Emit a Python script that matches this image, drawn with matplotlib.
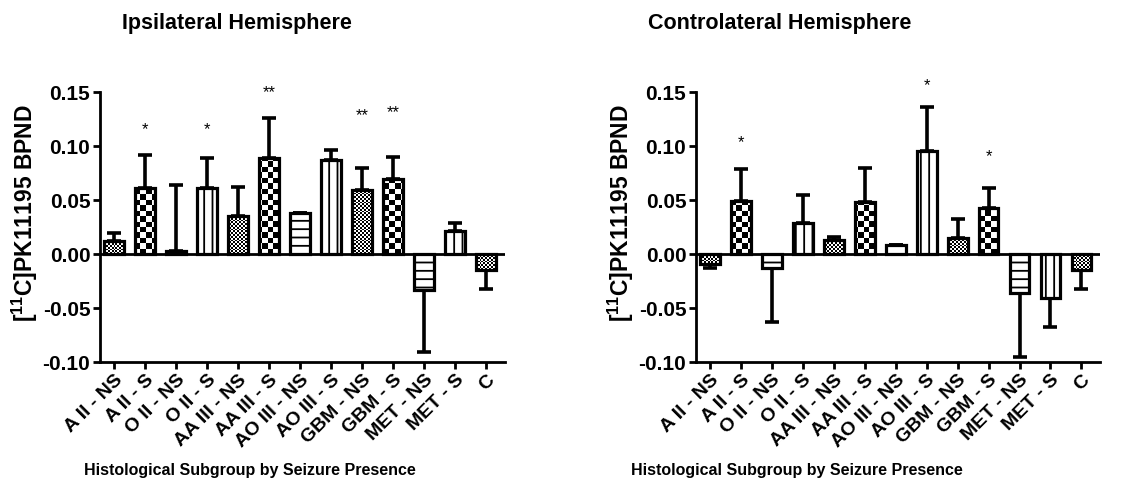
import matplotlib
matplotlib.use("Agg")
import matplotlib.pyplot as plt
import numpy as np

plt.rcParams['font.family'] = ['Liberation Sans', 'DejaVu Sans']
plt.rcParams['font.weight'] = 'bold'
plt.rcParams['mathtext.fontset'] = 'custom'
plt.rcParams['mathtext.rm'] = 'Liberation Sans:bold'
plt.rcParams['mathtext.bf'] = 'Liberation Sans:bold'
plt.rcParams['hatch.linewidth'] = 1.3

labels = ['A II - NS', 'A II - S', 'O II - NS', 'O II - S', 'AA III - NS', 'AA III - S',
          'AO III - NS', 'AO III - S', 'GBM - NS', 'GBM - S', 'MET - NS', 'MET - S', 'C']
patterns = ['fine', 'checker', 'hline', 'vline', 'fine', 'checker', 'hline', 'vline',
            'fine', 'checker', 'hline', 'vline', 'fine']

ipsi_mean = [0.012, 0.061, 0.003, 0.061, 0.035, 0.089, 0.038, 0.087, 0.059, 0.069, -0.033, 0.021, -0.015]
ipsi_err = [0.007, 0.031, 0.061, 0.028, 0.027, 0.037, 0.0, 0.009, 0.021, 0.021, 0.058, 0.008, 0.017]
ipsi_stars = ['', '*', '', '*', '', '**', '', '', '**', '**', '', '', '']
ipsi_star_y = [0, 0.115, 0, 0.115, 0, 0.149, 0, 0, 0.128, 0.131, 0, 0, 0]

contra_mean = [-0.009, 0.049, -0.013, 0.029, 0.013, 0.048, 0.008, 0.095, 0.015, 0.043, -0.036, -0.041, -0.015]
contra_err = [0.004, 0.030, 0.050, 0.026, 0.003, 0.032, 0.0, 0.041, 0.017, 0.018, 0.059, 0.027, 0.017]
contra_stars = ['', '*', '', '', '', '', '', '*', '', '*', '', '', '']
contra_star_y = [0, 0.103, 0, 0, 0, 0, 0, 0.156, 0, 0.090, 0, 0, 0]

yticks = [-0.10, -0.05, 0.00, 0.05, 0.10, 0.15]


def pattern_img(kind, h=300, w=420):
    r, c = np.mgrid[0:h, 0:w]
    if kind == 'checker':
        return ((r // 6 + c // 6) % 2).astype(float)
    return ((r // 2 + c // 2) % 2).astype(float)


def panel(ax, means, errs, stars, star_y):
    x = np.arange(len(labels))
    bars = ax.bar(x, means, width=0.64, color='white', edgecolor='none', zorder=2)
    for b, kind in zip(bars, patterns):
        if kind in ('checker', 'fine'):
            im = ax.imshow(pattern_img(kind), cmap='gray', extent=(0, 1, 0, 1),
                           transform=ax.transAxes, interpolation='nearest',
                           aspect='auto', zorder=2.5)
            im.set_clip_path(b)
    hatches = {'hline': '--', 'vline': '||', 'fine': '', 'checker': ''}
    for xi, m, kind in zip(x, means, patterns):
        ax.bar(xi, m, width=0.64, fill=False, edgecolor='black', linewidth=2.3,
               hatch=hatches[kind], zorder=3)

    # error bars only away from zero
    lower = [e if m < 0 else 0 for m, e in zip(means, errs)]
    upper = [e if m >= 0 else 0 for m, e in zip(means, errs)]
    ax.errorbar(x, means, yerr=[lower, upper], fmt='none', ecolor='black',
                elinewidth=2.6, capsize=5, capthick=2.6, zorder=1.5)

    for xi, s, sy in zip(x, stars, star_y):
        if s:
            ax.text(xi, sy, s, ha='center', va='center', fontsize=12,
                    fontweight='normal', clip_on=False)

    ax.axhline(0, color='black', linewidth=2, zorder=4)
    ax.set_xlim(-0.45, 12.6)
    ax.set_ylim(-0.10, 0.15)
    ax.set_yticks(yticks)
    ax.set_yticklabels(['%.2f' % t for t in yticks], fontsize=15, fontweight='bold')
    ax.set_xticks(x)
    ax.set_xticklabels(labels, rotation=45, ha='right', va='top',
                       rotation_mode='anchor', fontsize=14, fontweight='bold')
    for sp in ['top', 'right']:
        ax.spines[sp].set_visible(False)
    for sp in ['left', 'bottom']:
        ax.spines[sp].set_linewidth(2)
    ax.tick_params(width=2, length=5, pad=2)
    ax.set_ylabel(r'[$^{\mathbf{11}}$C]PK11195 BPND', fontsize=16.5, fontweight='bold')
    ax.yaxis.set_label_coords(-0.148, 0.55)


fig = plt.figure(figsize=(11.28, 4.92), dpi=100)
ax1 = fig.add_axes([100 / 1128, 1 - 362 / 492, 405 / 1128, 270 / 492])
ax2 = fig.add_axes([696 / 1128, 1 - 362 / 492, 404 / 1128, 270 / 492])

panel(ax1, ipsi_mean, ipsi_err, ipsi_stars, ipsi_star_y)
panel(ax2, contra_mean, contra_err, contra_stars, contra_star_y)

fig.text(237 / 1128, 1 - 24 / 492, 'Ipsilateral Hemisphere', ha='center', va='center',
         fontsize=15.5, fontweight='bold')
fig.text(780 / 1128, 1 - 24 / 492, 'Controlateral Hemisphere', ha='center', va='center',
         fontsize=15.5, fontweight='bold')
fig.text(250 / 1128, 1 - 470 / 492, 'Histological Subgroup by Seizure Presence',
         ha='center', va='center', fontsize=11.5, fontweight='bold')
fig.text(797 / 1128, 1 - 470 / 492, 'Histological Subgroup by Seizure Presence',
         ha='center', va='center', fontsize=11.5, fontweight='bold')

fig.savefig('out.png', dpi=100)
